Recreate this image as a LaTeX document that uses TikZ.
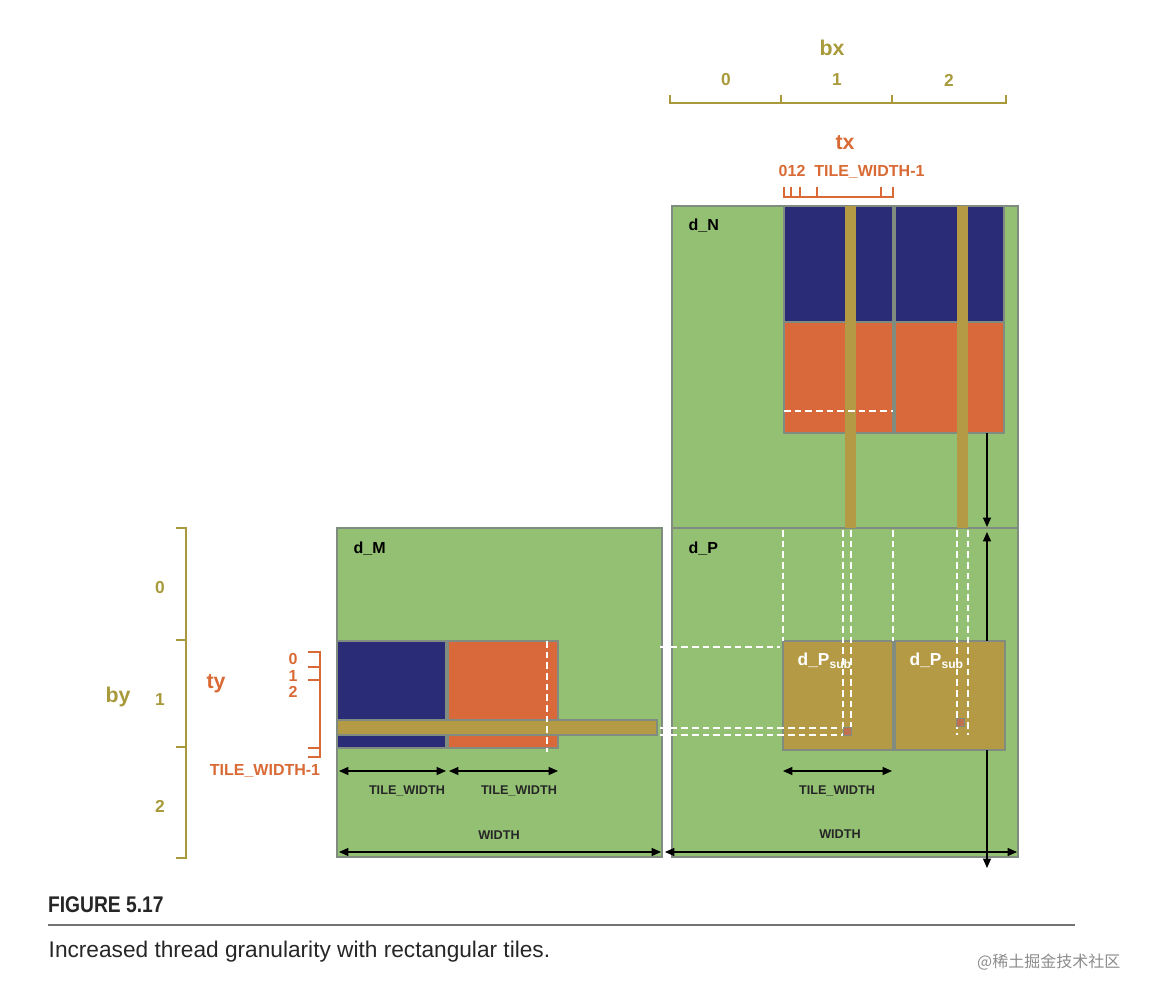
\documentclass[tikz,border=0pt]{standalone}
\usepackage{fontspec}
\setmainfont{Liberation Sans}
\newfontfamily\cjk{Noto Sans CJK SC}
\usetikzlibrary{arrows.meta}
\definecolor{grn}{HTML}{93C072}
\definecolor{blu}{HTML}{2B2C78}
\definecolor{org}{HTML}{D9693A}
\definecolor{gld}{HTML}{B49A45}
\definecolor{olv}{HTML}{A89A3A}
\definecolor{otx}{HTML}{D96A35}
\definecolor{bdr}{HTML}{808C80}
\tikzset{
 mat/.style={fill=grn,draw=bdr,line width=1.2pt},
 tb/.style={fill=blu,draw=bdr,line width=1pt},
 to/.style={fill=org,draw=bdr,line width=1pt},
 tg/.style={fill=gld,draw=bdr,line width=1pt},
 wd/.style={draw=white,dashed,line width=1pt,dash pattern=on 5pt off 3pt},
 dim/.style={draw=black,line width=0.9pt,{Triangle[length=7pt,width=6pt]}-{Triangle[length=7pt,width=6pt]}},
 one/.style={draw=black,line width=0.9pt,-{Triangle[length=7pt,width=6pt]}},
 lab/.style={font=\bfseries\fontsize{12}{12}\selectfont},
 sm/.style={font=\bfseries\fontsize{9.5}{10}\selectfont,text=black!85},
 olab/.style={font=\bfseries\fontsize{13}{13}\selectfont,text=olv},
 otl/.style={font=\bfseries\fontsize{12}{12}\selectfont,text=otx},
 oax/.style={draw=olv,line width=1.5pt},
 rax/.style={draw=otx,line width=2pt},
}
\begin{document}
\begin{tikzpicture}[x=0.75pt,y=-0.75pt]
\useasboundingbox (0,0) rectangle (1150,998);
% matrices
\path[mat] (672,206) rectangle (1018,528);
\path[mat] (672,528) rectangle (1018,857);
\path[mat] (337,528) rectangle (662,857);
\node[lab,anchor=west] (dN) at (684,226) {d\_N};
\node[lab,anchor=west] (dP) at (684,549) {d\_P};
\node[lab,anchor=west] (dM) at (349,549) {d\_M};
% N tiles
\path[tb] (784,206) rectangle (893,322);
\path[to] (784,322) rectangle (893,433);
\path[tb] (895,206) rectangle (1004,322);
\path[to] (895,322) rectangle (1004,433);
\path[fill=gld] (845,206) rectangle (856,528);
\path[fill=gld] (957,206) rectangle (968,528);
\draw[wd] (784,411) -- (893,411);
% M tiles
\path[tb] (337,641) rectangle (446,748);
\path[to] (448,641) rectangle (558,748);
\path[tg] (337,720) rectangle (657,735);
\draw[wd] (547,641) -- (547,752);
% Psub
\path[tg] (783,641) rectangle (893,750);
\path[tg] (895,641) rectangle (1005,750);
\node[font=\bfseries\fontsize{13}{13}\selectfont,text=white,anchor=west] (ps1) at (793,661) {d\_P\textsubscript{sub}};
\node[font=\bfseries\fontsize{13}{13}\selectfont,text=white,anchor=west] (ps2) at (905,661) {d\_P\textsubscript{sub}};
% dashed guides in P
\draw[wd] (783,530) -- (783,641);
\draw[wd] (893,530) -- (893,641);
\draw[wd] (843,530) -- (843,735);
\draw[wd] (851,530) -- (851,728);
\draw[wd] (957,530) -- (957,735);
\draw[wd] (968,530) -- (968,735);
\draw[wd] (660,647) -- (780,647);
\draw[wd] (660,728) -- (838,728);
\draw[wd] (660,735) -- (843,735);
\path[fill=org!70!gray,draw=bdr] (843,727) rectangle (851,735);
\path[fill=org!70!gray,draw=bdr] (956,718) rectangle (964,726);
% arrows
\coordinate (a1) at (987,433); \coordinate (a2) at (987,527);
\draw[one] (a1) -- (a2);
\coordinate (a3) at (987,641); \coordinate (a4) at (987,532);
\draw[one] (a3) -- (a4);
\coordinate (a5) at (987,750); \coordinate (a6) at (987,868);
\draw[one] (a5) -- (a6);
\coordinate (w1) at (339,852); \coordinate (w2) at (661,852);
\draw[dim] (w1) -- (w2);
\coordinate (w3) at (665,852); \coordinate (w4) at (1017,852);
\draw[dim] (w3) -- (w4);
\node[sm] (wl1) at (499,835) {WIDTH};
\node[sm] (wl2) at (840,834) {WIDTH};
\coordinate (t1) at (339,771); \coordinate (t2) at (446,771);
\draw[dim] (t1) -- (t2);
\coordinate (t3) at (449,771); \coordinate (t4) at (558,771);
\draw[dim] (t3) -- (t4);
\coordinate (t5) at (783,771); \coordinate (t6) at (892,771);
\draw[dim] (t5) -- (t6);
\node[sm] (tl1) at (407,791) {TILE\_WIDTH};
\node[sm] (tl2) at (519,791) {TILE\_WIDTH};
\node[sm] (tl3) at (837,791) {TILE\_WIDTH};
% bx axis
\draw[oax] (670,95) -- (670,103) -- (1006,103) -- (1006,95);
\draw[oax] (781,95) -- (781,103);
\draw[oax] (892,95) -- (892,103);
\node[font=\bfseries\fontsize{16}{16}\selectfont,text=olv] (bx) at (832,48) {bx};
\node[olab] (b0) at (726,80) {0};
\node[olab] (b1) at (837,80) {1};
\node[olab] (b2) at (949,80) {2};
% tx
\node[font=\bfseries\fontsize{16}{16}\selectfont,text=otx] (tx) at (845,143) {tx};
\node[otl,anchor=west] (txl) at (774,172) {012\ \ TILE\_WIDTH-1};
\draw[rax] (784,187) -- (784,197) -- (893,197) -- (893,187);
\foreach \xx in {791,800,817,881}{\draw[rax] (\xx,187) -- (\xx,197);}
% by axis
\draw[oax] (176,528) -- (186,528) -- (186,858) -- (176,858);
\draw[oax] (176,640) -- (186,640);
\draw[oax] (176,747) -- (186,747);
\node[font=\bfseries\fontsize{16}{16}\selectfont,text=olv] (by) at (118,697) {by};
\node[olab] (y0) at (160,588) {0};
\node[olab] (y1) at (160,700) {1};
\node[olab] (y2) at (160,806) {2};
% ty
\node[font=\bfseries\fontsize{16}{16}\selectfont,text=otx] (ty) at (216,684) {ty};
\draw[rax] (308,652) -- (320,652) -- (320,757) -- (308,757);
\foreach \yy in {667,680,748}{\draw[rax] (308,\yy) -- (320,\yy);}
\node[otl] (q0) at (293,659) {0};
\node[otl] (q1) at (293,676) {1};
\node[otl] (q2) at (293,692) {2};
\node[otl] (qw) at (265,771) {TILE\_WIDTH-1};
% caption
\node[anchor=west,font=\bfseries\fontsize{17}{17}\selectfont,text=black!85,xscale=0.85] (fig) at (44,905) {FIGURE 5.17};
\coordinate (l1) at (48,925); \coordinate (l2) at (1075,925);
\draw[black!55,line width=0.8pt] (l1) -- (l2);
\node[anchor=west,font=\fontsize{17}{17}\selectfont,text=black!85] (cap) at (44,952) {Increased thread granularity with rectangular tiles.};
\node[anchor=east,font=\cjk\fontsize{12}{12}\selectfont,text=black!45] (wm) at (1125,962) {@稀土掘金技术社区};
\end{tikzpicture}
\end{document}
